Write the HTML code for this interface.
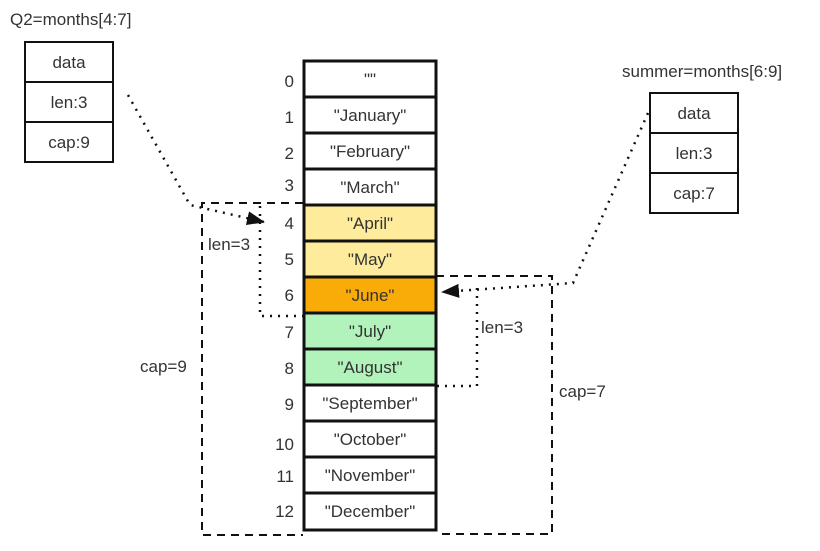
<!DOCTYPE html>
<html><head><style>body{margin:0;background:#fff}</style></head><body>
<svg width="820" height="546" xmlns="http://www.w3.org/2000/svg" font-family="Liberation Sans, Arial, sans-serif" font-size="17" fill="#333">
<defs><marker id="a" viewBox="0 0 10 10" refX="9" refY="5" markerWidth="6" markerHeight="6" orient="auto" markerUnits="userSpaceOnUse"><path d="M0,0L10,5L0,10z" fill="#111"/></marker>
<marker id="b" markerWidth="18" markerHeight="14" refX="17" refY="7" orient="auto" markerUnits="userSpaceOnUse"><path d="M0,0L18,7L0,14z" fill="#111"/></marker></defs>
<!-- dashed cap boxes -->
<path d="M303,203H202V535H303" fill="none" stroke="#111" stroke-width="2" stroke-dasharray="8,6"/>
<path d="M436,276H552V534H436" fill="none" stroke="#111" stroke-width="2" stroke-dasharray="8,6"/>
<!-- array -->
<g stroke="#111" stroke-width="3">
<rect x="304" y="61" width="132" height="36" fill="#fff"/>
<rect x="304" y="97" width="132" height="36" fill="#fff"/>
<rect x="304" y="133" width="132" height="36" fill="#fff"/>
<rect x="304" y="169" width="132" height="36" fill="#fff"/>
<rect x="304" y="205" width="132" height="36" fill="#ffeb9c"/>
<rect x="304" y="241" width="132" height="36" fill="#ffeb9c"/>
<rect x="304" y="277" width="132" height="36" fill="#f9ac07"/>
<rect x="304" y="313" width="132" height="36" fill="#b2f2bb"/>
<rect x="304" y="349" width="132" height="36" fill="#b2f2bb"/>
<rect x="304" y="385" width="132" height="36" fill="#fff"/>
<rect x="304" y="421" width="132" height="36" fill="#fff"/>
<rect x="304" y="457" width="132" height="36" fill="#fff"/>
<rect x="304" y="493" width="132" height="37" fill="#fff"/>
</g>
<g text-anchor="middle">
<text x="370" y="85">""</text><text x="370" y="121">"January"</text><text x="370" y="157">"February"</text><text x="370" y="193">"March"</text><text x="370" y="229">"April"</text><text x="370" y="265">"May"</text><text x="370" y="301">"June"</text><text x="370" y="337">"July"</text><text x="370" y="373">"August"</text><text x="370" y="409">"September"</text><text x="370" y="445">"October"</text><text x="370" y="481">"November"</text><text x="370" y="517">"December"</text>
</g>
<g text-anchor="end">
<text x="294" y="87">0</text><text x="294" y="123">1</text><text x="294" y="159">2</text><text x="294" y="191">3</text><text x="294" y="229">4</text><text x="294" y="265">5</text><text x="294" y="301">6</text><text x="294" y="338">7</text><text x="294" y="374">8</text><text x="294" y="410">9</text><text x="294" y="450">10</text><text x="294" y="482">11</text><text x="294" y="517">12</text>
</g>
<!-- Q2 box -->
<text x="10" y="25">Q2=months[4:7]</text>
<g stroke="#111" stroke-width="2" fill="#fff">
<rect x="25" y="42" width="88" height="40"/><rect x="25" y="82" width="88" height="40"/><rect x="25" y="122" width="88" height="40"/>
<rect x="650" y="93" width="88" height="40"/><rect x="650" y="133" width="88" height="40"/><rect x="650" y="173" width="88" height="40"/>
</g>
<g text-anchor="middle">
<text x="69" y="68">data</text><text x="69" y="108">len:3</text><text x="69" y="148">cap:9</text>
<text x="694" y="119">data</text><text x="694" y="159">len:3</text><text x="694" y="199">cap:7</text>
</g>
<text x="622" y="77">summer=months[6:9]</text>
<!-- dotted connectors -->
<g fill="none" stroke="#111" stroke-width="2.5" stroke-dasharray="2,6">
<path d="M128,95L190,205L264,222" marker-end="url(#b)"/>
<path d="M260,206V316H303"/>
<path d="M648,113L573,283L442,292" marker-end="url(#b)"/>
<path d="M477,288V386H436"/>
</g>
<path d="M270,222l-1,0" stroke="none"/>
<text x="208" y="250">len=3</text>
<text x="481" y="333">len=3</text>
<text x="140" y="372">cap=9</text>
<text x="559" y="397">cap=7</text>
</svg>
</body></html>
